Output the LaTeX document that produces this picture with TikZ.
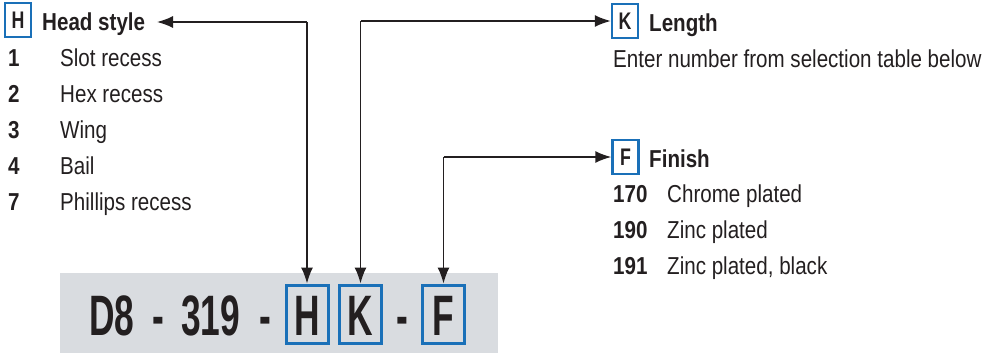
\documentclass[tikz,border=0pt]{standalone}
\usepackage{fontspec}
\setmainfont{Liberation Sans}[FakeStretch=0.84]
\newfontfamily\bigfont{Liberation Sans}[FakeStretch=0.62]
\newfontfamily\midfont{Liberation Sans}[FakeStretch=0.74]
\usetikzlibrary{arrows.meta}
\definecolor{ink}{HTML}{231F20}
\definecolor{bluebox}{HTML}{1A70B8}
\definecolor{graybar}{HTML}{D9DCE0}
\begin{document}
\begin{tikzpicture}[x=1pt,y=-1pt,
  txt/.style={inner sep=0pt, anchor=base west, text=ink, font=\fontsize{24.5}{24.5}\selectfont},
  btxt/.style={txt, font=\fontsize{24.5}{24.5}\selectfont\bfseries},
  lbox/.style={draw=bluebox, line width=2.5pt, inner sep=0pt, minimum width=26pt, minimum height=34pt, text=ink, font=\midfont\fontsize{24}{24}\selectfont\bfseries},
  bbox/.style={draw=bluebox, line width=3pt, inner sep=0pt, minimum width=42pt, minimum height=58pt},
  bigtxt/.style={inner sep=0pt, anchor=base, text=ink, font=\bigfont\fontsize{57}{57}\selectfont\bfseries},
  arr/.style={draw=ink, line width=1.5pt, -{Latex[length=16pt,width=12pt]}}]
\useasboundingbox (0,0) rectangle (985,354);
% gray bar
\fill[graybar] (60,273) rectangle (498,353);
% big code
\node[bigtxt, anchor=base west] (d8) at (89,335) {D8};
\node[bigtxt] (m1) at (158,335) {-};
\node[bigtxt, anchor=base west] (n319) at (181,335) {319};
\node[bigtxt] (m2) at (265,335) {-};
\node[bbox] (bH) at (307,314) {};
\node[bbox] (bK) at (360.5,314) {};
\node[bigtxt] (m3) at (402,335) {-};
\node[bbox] (bF) at (443.5,314) {};
\node[bigtxt] at (307,335) {H};
\node[bigtxt] at (360.5,335) {K};
\node[bigtxt] at (443.5,335) {F};
% head style list
\node[lbox] (hH) at (18,20) {H};
\node[btxt] (hs) at (42,30) {Head style};
\node[btxt] (h1) at (8,66) {1};
\node[txt] (t1) at (60,66) {Slot recess};
\node[btxt] (h2) at (8,102) {2};
\node[txt] (t2) at (60,102) {Hex recess};
\node[btxt] (h3) at (8,138) {3};
\node[txt] (t3) at (60,138) {Wing};
\node[btxt] (h4) at (8,174) {4};
\node[txt] (t4) at (60,174) {Bail};
\node[btxt] (h7) at (8,210) {7};
\node[txt] (t7) at (60,210) {Phillips recess};
% length
\node[lbox] (kK) at (625,21) {K};
\node[btxt] (len) at (649,31) {Length};
\node[txt] (ent) at (613,67) {Enter number from selection table below};
% finish
\node[lbox] (fF) at (625.5,157) {F};
\node[btxt] (fin) at (649,167) {Finish};
\node[btxt] (f170) at (613,202) {170};
\node[txt] (c170) at (667,202) {Chrome plated};
\node[btxt] (f190) at (613,238) {190};
\node[txt] (c190) at (667,238) {Zinc plated};
\node[btxt] (f191) at (613,274) {191};
\node[txt] (c191) at (667,274) {Zinc plated, black};
% connectors
\coordinate (hsend) at (157,22);
\draw[arr] (bH.north |- hsend) -- (hsend);
\draw[arr] (bH.north |- hsend) -- (bH.north);
\draw[arr] (bK.north |- kK.west) -- (kK.west);
\draw[arr] (bK.north |- kK.west) -- (bK.north);
\draw[arr] (bF.north |- fF.west) -- (fF.west);
\draw[arr] (bF.north |- fF.west) -- (bF.north);
\end{tikzpicture}
\end{document}
